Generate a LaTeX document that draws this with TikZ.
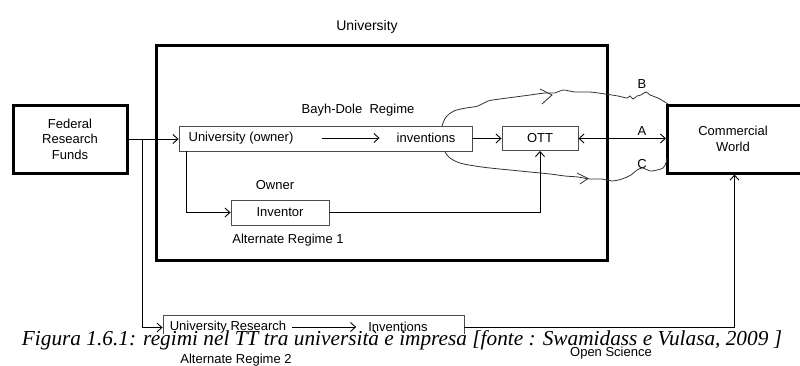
\documentclass[tikz,border=0pt]{standalone}
\usepackage{fontspec}
\setmainfont{Liberation Sans}
\newfontfamily\capfont{Liberation Serif}
\usetikzlibrary{arrows.meta}
\begin{document}
\begin{tikzpicture}[x=1pt,y=-1pt,
  every node/.style={font=\fontsize{13}{15.5}\selectfont, inner sep=0pt},
  thickbox/.style={draw, line width=3pt, align=center},
  thinbox/.style={draw=black!70, line width=0.9pt},
  conn/.style={line width=0.9pt},
  arr/.style={conn, -{Straight Barb[length=5pt,width=9pt]}},
  wavy/.style={line width=0.8pt, black!80}]
\useasboundingbox (0,0) rectangle (800,365);
% main boxes
\node[thickbox, minimum width=451pt, minimum height=215pt] (univ) at (381.5,152.5) {};
\node[font=\fontsize{14}{16}\selectfont] (univlbl) at (367,27) {University};
\node[thickbox, minimum width=114pt, minimum height=68pt] (fed) at (70,139) {Federal\\Research\\Funds};
\node[thickbox, minimum width=134pt, minimum height=68pt] (cw) at (734.5,139) {};
\node (cwtxt) at (733,139) [align=center] {Commercial\\World};
% Bayh-Dole
\node (bdlbl) at (358,110) {Bayh-Dole\ \ Regime};
\node[thinbox, minimum width=293pt, minimum height=25pt] (uo) at (325.5,138.5) {};
\node (uotxt) at (241,138) {University (owner)};
\node (inv) at (426,138) {inventions};
\node[thinbox, minimum width=76pt, minimum height=24pt] (ott) at (540,138.5) {OTT};
% Alternate regime 1
\node (ownerlbl) at (275,185) {Owner};
\node[thinbox, minimum width=98pt, minimum height=25pt] (inventor) at (280,212.5) {Inventor};
\node (ar1) at (288,240) {Alternate Regime 1};
% Alternate regime 2
\node[thinbox, minimum width=301pt, minimum height=25pt] (ur) at (313.5,327.5) {};
\node (urtxt) at (228,327) {University Research};
\node (urinv) at (398,327) {Inventions};
% labels A B C
\node (lA) at (642,131) {A};
\node (lB) at (642,84) {B};
\node (lC) at (642,164) {C};
% connectors
\coordinate (br) at (142,139);
\draw[arr] (fed.east |- br) -- (uo.west |- br);
\draw[arr] (br) |- (ur.west);
\draw[arr] ([xshift=28pt]uotxt.east) -- ([xshift=-17pt]inv.west);
\draw[arr] ([xshift=6pt]urtxt.east) -- ([xshift=-12pt]urinv.west);
\draw[arr] (uo.east |- ott.west) -- (ott.west);
\draw[arr] (uo.south -| 186,0) |- (inventor.west);
\draw[arr] (inventor.east) -| (ott.south);
\draw[conn, {Straight Barb[length=5pt,width=9pt]}-{Straight Barb[length=5pt,width=9pt]}] (ott.east) -- (cw.west |- ott.east);
\draw[arr] (ur.east) -| (cw.south);
% wavy paths (B and C)
\draw[wavy] plot[smooth, tension=0.6] coordinates {(442,126) (446,117) (454,111) (466,108) (478,106) (488,101) (500,99) (515,97) (530,95) (545,93) (555,93) (563,90) (575,92) (590,92) (605,94) (618,96) (627,98) (630,96) (633,99) (637,96) (641,95) (646,92) (650,95) (658,98) (668,104)};
\draw[wavy] (540,89) -- (552,95) -- (542,104);
\draw[wavy] plot[smooth, tension=0.6] coordinates {(445,152) (450,158) (460,163) (475,166) (490,168) (510,170) (530,172) (550,174) (565,176) (578,177) (590,179) (602,179) (612,181) (622,179) (631,175) (637,170) (643,168) (650,171) (657,170) (663,168) (666,163) (667,158)};
\draw[wavy] (577,173) -- (588,178.5) -- (580,184);
% caption
\fill[white] (25,334) rectangle (782,348);
\node[anchor=base, font=\capfont\itshape\fontsize{21.3}{23}\selectfont] (cap) at (402,345) {Figura 1.6.1: regimi nel TT tra università e impresa [fonte : Swamidass e Vulasa, 2009 ]};
\node (ar2) at (236,360) {Alternate Regime 2};
\node (os) at (611,353) {Open Science};
\end{tikzpicture}
\end{document}
